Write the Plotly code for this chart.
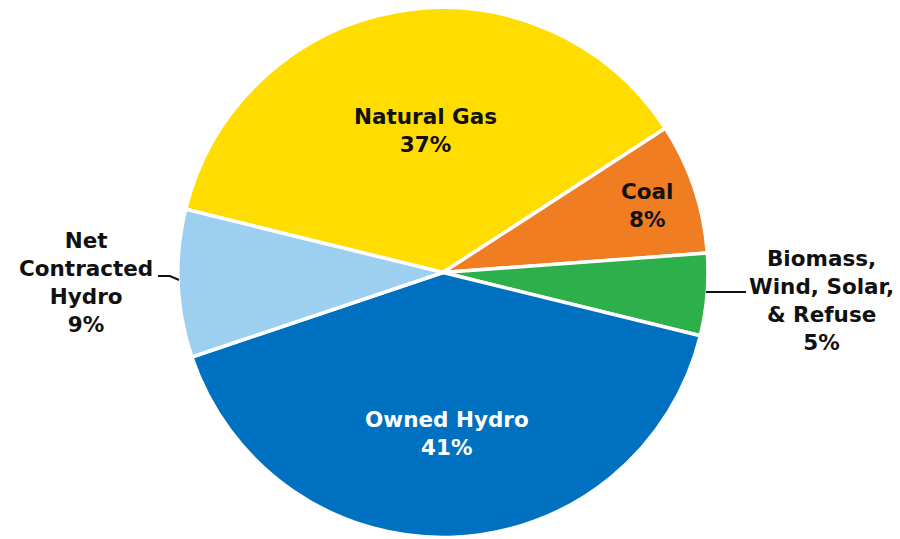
import plotly.graph_objects as go

# Generation mix by resource
labels = ["Natural Gas", "Coal", "Biomass, Wind, Solar, & Refuse", "Owned Hydro", "Net Contracted Hydro"]
values = [37, 8, 5, 41, 9]
colors = ["#FFDD00", "#F07D22", "#2DB04B", "#0070C0", "#9DCFF0"]

# Text shown for each slice (multi-line label + percent)
label_lines = [
    ["Natural Gas"],
    ["Coal"],
    ["Biomass,", "Wind, Solar,", "& Refuse"],
    ["Owned Hydro"],
    ["Net", "Contracted", "Hydro"],
]
text_colors = ["#111111", "#111111", "#111111", "#FFFFFF", "#111111"]

W, H = 900, 539

def px(x):
    return x / W

def py(y):
    return 1 - y / H

# Pie geometry in pixels
cx, cy, r = 443, 272.5, 265

fig = go.Figure(go.Pie(
    labels=labels,
    values=values,
    sort=False,
    direction="clockwise",
    rotation=-76.2,
    marker=dict(colors=colors, line=dict(color="white", width=3.5)),
    textinfo="none",
    hoverinfo="label+percent",
    showlegend=False,
    domain=dict(x=[px(cx - r), px(cx + r)], y=[py(cy + r), py(cy - r)]),
))

# Label anchor points (pixel centres of each text block)
label_pos = [(425, 130), (647, 205), (821, 300), (447, 433), (86, 282)]

annotations = []
for lines, v, col, (x, y) in zip(label_lines, values, text_colors, label_pos):
    annotations.append(dict(
        x=px(x), y=py(y), xref="paper", yref="paper",
        text="<br>".join(f"<b>{s}</b>" for s in lines + [f"{v}%"]),
        showarrow=False, xanchor="center", yanchor="middle",
        font=dict(family="DejaVu Sans, Arial, sans-serif", size=21.5, color=col),
    ))

# Leader lines for the labels placed outside the pie
shapes = [
    dict(type="path", xref="paper", yref="paper",
         path=f"M {px(158)},{py(276)} L {px(170)},{py(276)} L {px(179)},{py(280)}",
         line=dict(color="#111111", width=2)),
    dict(type="line", xref="paper", yref="paper",
         x0=px(706), y0=py(292), x1=px(746), y1=py(292),
         line=dict(color="#111111", width=2)),
]

fig.update_layout(
    width=W, height=H,
    margin=dict(l=0, r=0, t=0, b=0),
    paper_bgcolor="white",
    annotations=annotations,
    shapes=shapes,
)

fig.write_html("out.html")
